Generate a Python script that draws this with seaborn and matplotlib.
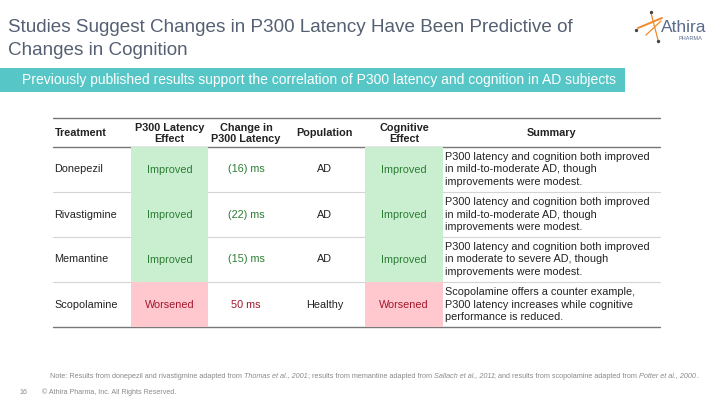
import numpy as np
import pandas as pd
import seaborn as sns
import matplotlib.pyplot as plt
from matplotlib.colors import ListedColormap

# 1. DATA
treatments = ['Donepezil', 'Rivastigmine', 'Memantine', 'Scopolamine']
p300_effect = ['Improved', 'Improved', 'Improved', 'Worsened']
latency_change_ms = [-16, -22, -15, 50]
population = ['AD', 'AD', 'AD', 'Healthy']
cognitive_effect = ['Improved', 'Improved', 'Improved', 'Worsened']
summaries = [
    'P300 latency and cognition both improved\nin mild-to-moderate AD, though\nimprovements were modest.',
    'P300 latency and cognition both improved\nin mild-to-moderate AD, though\nimprovements were modest.',
    'P300 latency and cognition both improved\nin moderate to severe AD, though\nimprovements were modest.',
    'Scopolamine offers a counter example,\nP300 latency increases while cognitive\nperformance is reduced.',
]
headers = ['Treatment', 'P300 Latency\nEffect', 'Change in\nP300 Latency', 'Population',
           'Cognitive\nEffect', 'Summary']

df = pd.DataFrame({'Treatment': treatments, 'P300': p300_effect, 'Change': latency_change_ms,
                   'Population': population, 'Cognitive': cognitive_effect, 'Summary': summaries})

# 2. STYLING
sns.set_theme(style='white')
plt.rcParams['font.family'] = ['Liberation Sans', 'DejaVu Sans']

green_bg, red_bg = '#c9efd0', '#ffc8cf'
green_txt, red_txt = '#2b7d33', '#a3172b'
title_col = '#556072'
teal = '#57c6c6'
body_size = 7.85

W, H = 720, 405
fig = plt.figure(figsize=(7.2, 4.05), dpi=100)
ax = fig.add_axes([0, 0, 1, 1])
ax.set_xlim(0, W)
ax.set_ylim(H, 0)
ax.axis('off')

# table layout (pixels)
col_edges = [53, 131, 208, 284, 365, 443, 660]
top, head_bot = 118, 147
row_h = 45
row_tops = [head_bot + i * row_h for i in range(len(treatments))]
table_bot = row_tops[-1] + row_h

# 3. TITLE + BANNER
ax.text(8, 32, 'Studies Suggest Changes in P300 Latency Have Been Predictive of',
        ha='left', va='baseline', size=13.6, color=title_col)
ax.text(8, 55, 'Changes in Cognition', ha='left', va='baseline', size=13.6, color=title_col)
ax.add_patch(plt.Rectangle((0, 68), 625, 24, color=teal, lw=0))
ax.text(22, 80, 'Previously published results support the correlation of P300 latency and cognition in AD subjects',
        ha='left', va='center', size=10, color='white')

# logo
ax.plot([638, 662], [28, 18], color='#f0892a', lw=1.4)
ax.plot([651, 658], [13, 40], color='#f0892a', lw=0.9)
ax.plot([646, 661], [35, 21], color='#f0892a', lw=0.9)
ax.scatter([636, 651, 658], [30, 12, 41], s=2, color='#444444', zorder=4)
ax.text(661, 28, 'Athira', ha='left', va='center', size=12.5, color='#5a6b8c')
ax.text(690, 38, 'PHARMA', ha='center', va='center', size=4, color='#5a6b8c')

# 4. EFFECT CELLS as seaborn heatmaps
def effect_heatmap(col_idx, labels):
    x0, x1 = col_edges[col_idx], col_edges[col_idx + 1]
    hax = fig.add_axes([x0 / W, 1 - table_bot / H, (x1 - x0) / W, (table_bot - head_bot) / H])
    vals = np.array([[1 if v == 'Improved' else 0] for v in labels])
    annot = np.array([[v] for v in labels])
    sns.heatmap(vals, ax=hax, cmap=ListedColormap([red_bg, green_bg]), vmin=0, vmax=1,
                cbar=False, annot=annot, fmt='', xticklabels=False, yticklabels=False,
                annot_kws={'size': body_size})
    for t, v in zip(hax.texts, labels):
        t.set_color(green_txt if v == 'Improved' else red_txt)
    hax.axis('off')

effect_heatmap(1, df['P300'])
effect_heatmap(4, df['Cognitive'])

# 5. HEADERS + CELL TEXT
centers = [(a + b) / 2 for a, b in zip(col_edges[:-1], col_edges[1:])]
head_y = (top + head_bot) / 2 + 1
for i, h in enumerate(headers):
    x = col_edges[0] + 2 if i == 0 else centers[i]
    ax.text(x, head_y, h, ha='left' if i == 0 else 'center', va='center', size=body_size,
            weight='bold', color='#222222', linespacing=1.05)

for r, row in df.iterrows():
    yc = row_tops[r] + row_h / 2
    ax.text(col_edges[0] + 1, yc, row['Treatment'], ha='left', va='center', size=body_size, color='#222222')
    ch = row['Change']
    ch_txt = f'({abs(ch)}) ms' if ch < 0 else f'{ch} ms'
    ax.text(centers[2], yc, ch_txt, ha='center', va='center', size=body_size,
            color=green_txt if ch < 0 else red_txt)
    ax.text(centers[3], yc, row['Population'], ha='center', va='center', size=body_size, color='#222222')
    ax.text(col_edges[5] + 2, yc, row['Summary'], ha='left', va='center', size=body_size,
            color='#222222', linespacing=1.3)

# rules
ax.plot([col_edges[0], col_edges[-1]], [top, top], color='#777777', lw=1.0, zorder=5)
ax.plot([col_edges[0], col_edges[-1]], [head_bot, head_bot], color='#777777', lw=1.0, zorder=5)
for yt in row_tops[1:]:
    ax.plot([col_edges[0], col_edges[-1]], [yt, yt], color='#d4d4d4', lw=0.8, zorder=5)
ax.plot([col_edges[0], col_edges[-1]], [table_bot, table_bot], color='#777777', lw=1.0, zorder=5)

# 6. FOOTER (note built from plain + italic pieces)
note_parts = [
    ('Note: Results from donepezil and rivastigmine adapted from ', 'normal'),
    ('Thomas et al., 2001', 'italic'),
    ('; results from memantine adapted from ', 'normal'),
    ('Sallach et al., 2011', 'italic'),
    ('; and results from scopolamine adapted from ', 'normal'),
    ('Potter et al., 2000', 'italic'),
    ('.', 'normal'),
]
renderer = fig.canvas.get_renderer()
xpos = 50
for s, st in note_parts:
    t = ax.text(xpos, 376, s, ha='left', va='center', size=5.25, color='#8a8a8a', style=st)
    bb = t.get_window_extent(renderer=renderer)
    xpos += bb.width
ax.text(20, 392, '16', ha='left', va='center', size=5.1, color='#8a8a8a')
ax.text(42, 392, '© Athira Pharma, Inc. All Rights Reserved.', ha='left', va='center', size=5.1, color='#8a8a8a')

fig.savefig('out.png', dpi=100)
